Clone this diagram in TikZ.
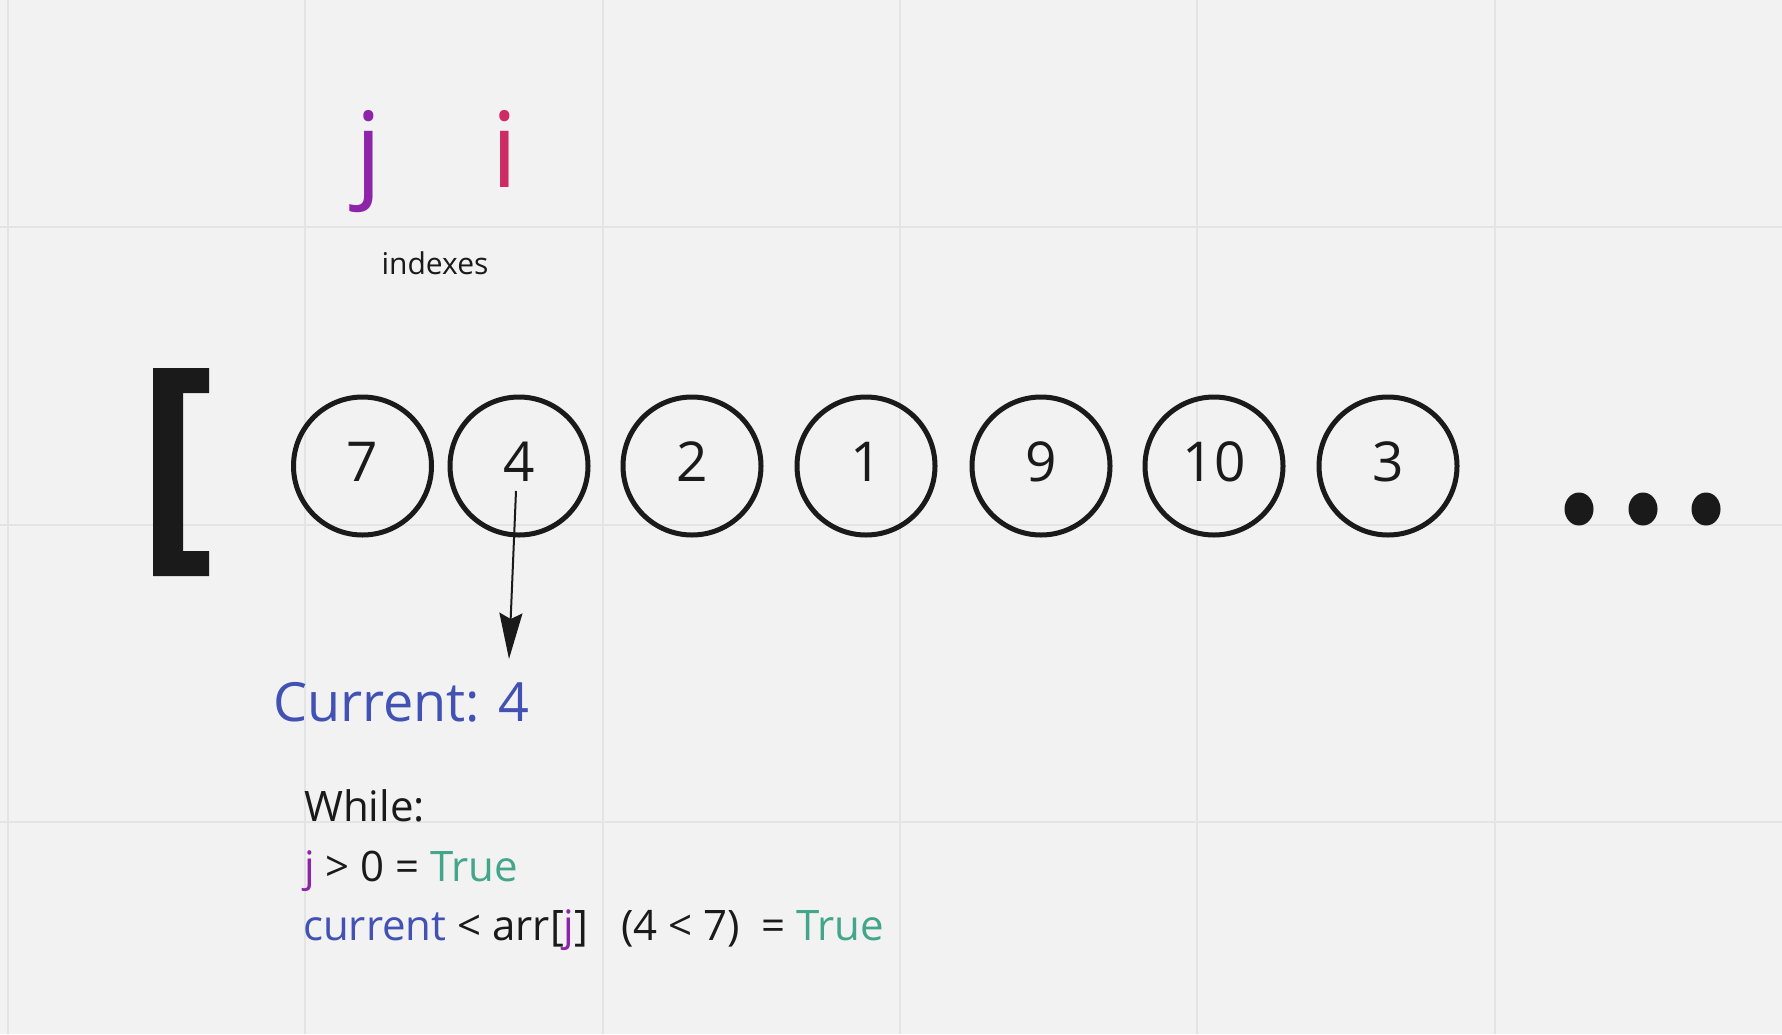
\documentclass[tikz,border=0pt]{standalone}
\usepackage{fontspec}
\setmainfont{Open Sans}
\usetikzlibrary{arrows.meta}
\definecolor{bg}{HTML}{F2F2F2}
\definecolor{gridc}{HTML}{E4E4E4}
\definecolor{ink}{HTML}{1A1A1A}
\definecolor{jpurple}{HTML}{8E24AA}
\definecolor{icrimson}{HTML}{CE2A63}
\definecolor{curblue}{HTML}{4151B4}
\definecolor{tgreen}{HTML}{43A68B}
\begin{document}
\begin{tikzpicture}[x=1pt,y=-1pt,
  gridline/.style={draw=gridc,line width=2pt},
  numcirc/.style={circle,draw=ink,line width=5pt,minimum size=138pt,inner sep=0pt,
    text=ink,font=\fontsize{55}{60}\selectfont,text height=40pt,text depth=10pt},
  codeline/.style={anchor=base west,text=ink,font=\fontsize{42}{50}\selectfont,inner sep=0pt},
  idx/.style={anchor=base,font=\fontsize{105}{110}\selectfont,inner sep=0pt},
  dotmark/.style={fill=ink}
]
\fill[bg] (0,0) rectangle (1782,1034);
\useasboundingbox (0,0) rectangle (1782,1034);
% grid
\foreach \gx in {8,305.3,602.6,899.9,1197.2,1494.5}
  \draw[gridline] (\gx,0) -- (\gx,1034);
\foreach \gy in {227,524.5,822}
  \draw[gridline] (0,\gy) -- (1782,\gy);

% index letters
\node[idx,text=jpurple] (jlab) at (369,187) {j};
\node[idx,text=icrimson] (ilab) at (505,187) {i};
\node[anchor=base,text=ink,font=\fontsize{30}{34}\selectfont,inner sep=0pt] (idxlab) at (435,274) {indexes};

% bracket
\fill[ink] (153,368) -- (209,368) -- (209,393) -- (183,393) -- (183,551) -- (209,551) -- (209,576) -- (153,576) -- cycle;

% array elements
\node[numcirc] (c1) at (362.5,466) {7};
\node[numcirc] (c2) at (519,466) {4};
\node[numcirc] (c3) at (692,466) {2};
\node[numcirc] (c4) at (866,466) {1};
\node[numcirc] (c5) at (1041,466) {9};
\node[numcirc] (c6) at (1214,466) {10};
\node[numcirc] (c7) at (1388,466) {3};

% ellipsis
\fill[dotmark] (1579,509) ellipse [x radius=14.5pt, y radius=16.5pt];
\fill[dotmark] (1643,509) ellipse [x radius=14.5pt, y radius=16.5pt];
\fill[dotmark] (1706,509) ellipse [x radius=14.5pt, y radius=16.5pt];

% current
\node[anchor=base west,text=curblue,font=\fontsize{54}{60}\selectfont,inner sep=0pt] (cur) at (273,721) {Current: 4};
\coordinate (tip) at (509,659);
\draw[ink,line width=2pt,-{Stealth[length=46pt,width=23pt,inset=6pt]}] ([shift={(-3,25)}]c2.center) -- (tip);

% while block
\node[codeline] (w1) at (304,821) {While:};
\node[codeline] (w2) at (304,881) {\textcolor{jpurple}{j} > 0 = \textcolor{tgreen}{True}};
\node[codeline] (w3) at (303,940) {\textcolor{curblue}{current} < arr[\textcolor{jpurple}{j}]\ \ \ (4 < 7)\ \ = \textcolor{tgreen}{True}};
\end{tikzpicture}
\end{document}
